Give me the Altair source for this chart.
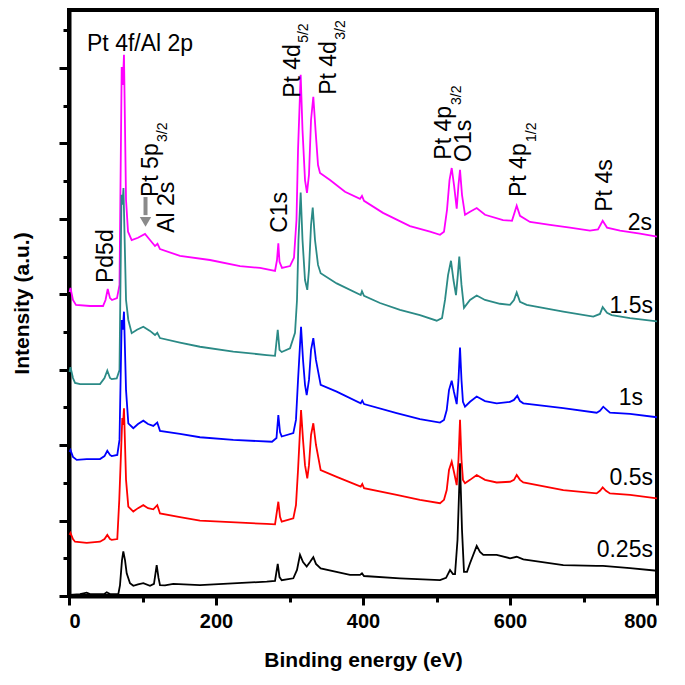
import altair as alt
import pandas as pd

FONT = "Liberation Sans"

series_names = ["2s", "1.5s", "1s", "0.5s", "0.25s"]
series_colors = ["#FF00FF", "#2B8A86", "#0000FF", "#FF0000", "#000000"]

# (binding energy eV, intensity a.u.)
pts_2s = [(0.7, 8.06), (2.0, 8.17), (5.4, 7.85), (9.5, 7.72), (28.6, 7.69), (46.3, 7.69), (49.7, 7.85),
          (52.7, 8.14), (55.8, 7.90), (58.5, 7.85), (65.3, 7.90), (68.7, 8.25), (71.7, 14.03), (73.2, 13.55),
          (74.8, 14.35), (77.6, 10.50), (80.3, 9.66), (85.3, 9.44), (93.9, 9.50), (103.4, 9.60), (110.2, 9.44),
          (117.0, 9.28), (120.4, 9.34), (123.8, 9.20), (151.0, 9.02), (191.8, 8.91), (232.7, 8.75), (259.9, 8.70),
          (280.3, 8.62), (283.0, 8.91), (284.8, 9.35), (286.4, 8.86), (289.8, 8.70), (300.7, 8.75), (306.1, 8.97),
          (309.5, 9.97), (311.6, 11.83), (315.2, 13.82), (317.7, 12.36), (321.1, 11.03), (323.8, 10.69),
          (326.5, 11.17), (329.3, 12.63), (332.4, 13.24), (335.4, 12.36), (338.8, 11.43), (341.5, 11.22),
          (355.1, 11.03), (375.5, 10.72), (395.9, 10.53), (398.6, 10.61), (401.4, 10.48), (427.2, 10.16),
          (463.9, 9.81), (491.2, 9.66), (504.8, 9.58), (510.2, 9.66), (514.3, 10.24), (517.7, 11.03),
          (520.7, 11.35), (523.8, 10.90), (527.5, 10.27), (529.9, 10.90), (532.0, 11.30), (534.7, 10.64),
          (538.8, 10.11), (545.6, 10.19), (554.7, 10.29), (566.0, 10.11), (590.5, 9.97), (602.7, 9.95),
          (609.1, 10.35), (613.6, 10.08), (627.2, 9.92), (654.4, 9.84), (681.6, 9.77), (708.8, 9.69),
          (719.7, 9.72), (726.1, 9.95), (732.0, 9.77), (749.7, 9.69), (776.9, 9.61), (800.0, 9.53)]

pts_15s = [(0.7, 5.94), (2.0, 6.07), (5.4, 5.78), (8.2, 5.65), (15.0, 5.62), (42.2, 5.62), (48.3, 5.78),
           (52.1, 5.98), (55.8, 5.78), (58.1, 5.75), (64.9, 5.77), (68.7, 5.99), (71.4, 10.64), (72.8, 10.38),
           (74.1, 10.82), (77.6, 7.85), (80.7, 7.32), (85.3, 6.97), (92.5, 7.06), (101.1, 7.14), (110.2, 7.03),
           (117.0, 6.92), (120.1, 6.98), (123.8, 6.84), (151.0, 6.72), (178.2, 6.61), (223.5, 6.48),
           (269.0, 6.39), (280.3, 6.37), (284.0, 7.06), (286.4, 6.53), (289.4, 6.47), (300.7, 6.57),
           (307.5, 6.98), (310.2, 7.85), (312.2, 9.44), (315.2, 10.70), (317.7, 9.44), (321.1, 8.38),
           (324.2, 8.12), (326.5, 8.65), (329.3, 9.84), (331.6, 10.30), (334.7, 9.44), (338.8, 8.78),
           (342.4, 8.56), (364.2, 8.29), (396.9, 7.98), (398.6, 8.08), (401.4, 7.96), (423.1, 7.77),
           (450.3, 7.59), (477.5, 7.45), (500.3, 7.30), (507.5, 7.37), (511.6, 7.85), (515.7, 8.51),
           (519.7, 8.89), (523.1, 8.38), (526.5, 7.98), (529.0, 8.51), (531.0, 9.00), (534.0, 8.25),
           (537.4, 7.64), (545.6, 7.85), (554.7, 7.97), (566.0, 7.85), (586.4, 7.75), (600.0, 7.72),
           (605.4, 7.85), (609.1, 8.05), (613.6, 7.80), (622.7, 7.72), (672.5, 7.54), (713.3, 7.41),
           (722.4, 7.48), (726.1, 7.66), (732.0, 7.51), (738.4, 7.45), (763.3, 7.37), (800.0, 7.28)]

pts_1s = [(0.7, 3.82), (2.0, 3.87), (5.4, 3.69), (10.5, 3.61), (24.1, 3.63), (42.2, 3.63), (48.3, 3.71),
          (52.1, 3.85), (55.8, 3.74), (58.1, 3.71), (65.7, 3.74), (68.7, 4.14), (71.7, 7.32), (73.2, 7.06),
          (74.8, 7.54), (77.6, 5.46), (80.7, 4.58), (87.5, 4.45), (93.9, 4.56), (101.1, 4.65), (107.5, 4.56),
          (114.7, 4.51), (120.1, 4.60), (123.8, 4.38), (151.0, 4.30), (178.2, 4.21), (223.5, 4.14),
          (276.2, 4.09), (282.3, 4.19), (284.8, 4.80), (287.1, 4.35), (289.4, 4.23), (305.2, 4.32),
          (308.8, 4.67), (311.6, 5.73), (315.7, 7.14), (318.4, 6.26), (321.1, 5.60), (323.4, 5.33),
          (326.5, 5.73), (329.3, 6.53), (332.4, 6.84), (336.0, 6.26), (342.4, 5.60), (364.2, 5.42),
          (396.9, 5.11), (399.0, 5.18), (401.4, 5.09), (445.8, 4.85), (477.5, 4.69), (504.8, 4.60),
          (510.2, 4.67), (513.9, 4.93), (517.0, 5.46), (520.7, 5.71), (523.8, 5.41), (527.5, 5.09),
          (529.9, 5.73), (532.0, 6.59), (534.0, 5.73), (536.0, 5.15), (538.8, 5.02), (545.6, 5.15),
          (554.7, 5.29), (566.0, 5.17), (581.9, 5.11), (600.0, 5.15), (605.4, 5.20), (609.9, 5.31),
          (613.6, 5.17), (618.1, 5.11), (672.5, 4.98), (717.9, 4.86), (722.4, 4.91), (726.9, 5.02),
          (732.0, 4.93), (736.0, 4.86), (763.3, 4.83), (800.0, 4.74)]

pts_05s = [(0.7, 1.62), (2.0, 1.67), (5.4, 1.51), (8.2, 1.44), (24.1, 1.41), (42.2, 1.44), (48.3, 1.51),
           (52.1, 1.62), (55.8, 1.51), (58.1, 1.49), (65.7, 1.51), (68.4, 2.55), (72.5, 4.72), (73.5, 4.54),
           (74.8, 4.98), (77.6, 3.08), (80.7, 2.37), (87.5, 2.24), (93.9, 2.33), (101.1, 2.41), (107.5, 2.33),
           (114.7, 2.30), (120.1, 2.41), (123.8, 2.19), (151.0, 2.09), (178.2, 2.00), (269.0, 1.91),
           (280.3, 1.90), (284.8, 2.50), (287.1, 2.10), (289.4, 1.97), (305.2, 2.06), (308.8, 2.41),
           (311.6, 3.34), (315.7, 4.93), (318.4, 4.14), (321.1, 3.47), (324.2, 3.12), (326.5, 3.47),
           (329.3, 4.27), (332.4, 4.58), (336.0, 4.01), (342.4, 3.34), (364.2, 3.16), (396.9, 2.90),
           (399.0, 2.97), (401.4, 2.86), (445.8, 2.68), (477.5, 2.55), (504.8, 2.46), (510.2, 2.55),
           (513.9, 2.81), (517.0, 3.34), (520.7, 3.56), (523.8, 3.29), (527.5, 2.94), (529.9, 3.61),
           (532.0, 4.67), (534.0, 3.61), (536.0, 3.08), (538.8, 2.99), (545.6, 3.08), (554.7, 3.21),
           (566.0, 3.08), (581.9, 3.01), (600.0, 3.03), (605.4, 3.08), (609.1, 3.21), (613.6, 3.08),
           (618.1, 3.01), (672.5, 2.81), (717.9, 2.72), (722.4, 2.79), (726.1, 2.88), (730.6, 2.79),
           (736.0, 2.72), (763.3, 2.68), (800.0, 2.59)]

pts_025s = [(1.4, 0.03), (15.0, 0.05), (24.1, 0.09), (28.6, 0.05), (47.6, 0.05), (51.3, 0.10), (55.8, 0.05),
            (67.1, 0.05), (69.4, 0.29), (72.1, 0.95), (73.9, 1.18), (76.2, 0.95), (78.5, 0.60), (83.0, 0.34),
            (87.5, 0.27), (93.9, 0.31), (101.1, 0.34), (110.2, 0.27), (115.6, 0.32), (119.3, 0.82),
            (121.8, 0.48), (123.8, 0.29), (130.6, 0.28), (141.9, 0.32), (178.2, 0.29), (269.0, 0.38),
            (280.3, 0.40), (284.0, 0.85), (286.4, 0.50), (289.4, 0.42), (305.2, 0.47), (310.2, 0.69),
            (314.3, 1.09), (318.4, 0.90), (323.4, 0.78), (327.9, 0.90), (332.4, 1.03), (336.0, 0.85),
            (342.4, 0.73), (382.3, 0.56), (395.9, 0.56), (398.6, 0.60), (401.4, 0.53), (450.3, 0.47),
            (504.8, 0.42), (513.0, 0.48), (518.4, 0.69), (522.4, 0.58), (525.2, 0.58), (528.6, 1.49),
            (532.0, 3.52), (534.7, 1.75), (537.4, 0.64), (541.5, 0.64), (545.6, 0.87), (554.7, 1.33),
            (559.2, 1.17), (563.7, 1.09), (581.9, 1.09), (600.0, 1.00), (609.1, 1.04), (618.1, 0.97),
            (672.5, 0.82), (717.9, 0.80), (726.5, 0.80), (763.3, 0.74), (800.0, 0.67)]

x_major = [0, 200, 400, 600, 800]
x_minor = [100, 300, 500, 700]
y_major = [0, 2, 4, 6, 8, 10, 12, 14]
y_minor = [1, 3, 5, 7, 9, 11, 13, 15]

# peak annotations (rotated), anchored at baseline start
rot_labels = ["Pd5d", "Pt 5p", "Al 2s", "C1s", "Pt 4d", "Pt 4d", "Pt 4p", "O1s", "Pt 4p", "Pt 4s"]
rot_ev = [59.9, 121.1, 142.9, 296.6, 314.3, 363.3, 519.7, 546.9, 621.7, 738.8]
rot_u = [8.30, 10.58, 9.63, 9.63, 13.21, 13.29, 11.57, 11.51, 10.58, 10.19]
sub_labels = ["3/2", "5/2", "3/2", "3/2", "1/2"]
sub_ev = [133.3, 325.2, 375.5, 533.3, 635.4]
sub_u = [12.04, 14.67, 14.75, 13.02, 12.04]
top_label = ["Pt 4f/Al 2p"]
top_ev = [24.5]
top_u = [14.46]
series_label_ev = [793.2, 794.5, 780.9, 794.5, 794.5]
series_label_u = [9.71, 7.51, 5.07, 2.94, 1.03]
arrow_ev = [104.1]
arrow_top = [10.58]
arrow_bot = [10.10]
arrow_head = [9.92]

all_pts = [pts_2s, pts_15s, pts_1s, pts_05s, pts_025s]
frames = []
for name, pts in zip(series_names, all_pts):
    frames.append(pd.DataFrame({"ev": [p[0] for p in pts], "u": [p[1] for p in pts], "series": name}))
df = pd.concat(frames, ignore_index=True)

xs = alt.Scale(domain=[0, 800], nice=False, zero=False)
ys = alt.Scale(domain=[0, 15.54], nice=False, zero=False)

ax_x_major = alt.Axis(values=x_major, orient="bottom", tickSize=9, tickWidth=3, tickColor="black",
                      domainWidth=4, domainColor="black", labelFont=FONT, labelFontSize=20,
                      labelFontWeight="bold", labelColor="black", labelPadding=6, grid=False,
                      title="Binding energy (eV)", titleFont=FONT, titleFontSize=21, titleFontWeight="bold",
                      titleColor="black", titleX=294, titleY=64, titleBaseline="middle", titleAlign="center")
ax_y_major = alt.Axis(values=y_major, orient="left", tickSize=10, tickWidth=3, tickColor="black",
                      domainWidth=4, domainColor="black", labels=False, grid=False,
                      title="Intensity (a.u.)", titleFont=FONT, titleFontSize=21, titleFontWeight="bold",
                      titleColor="black", titleX=-47, titleY=293, titleAngle=270,
                      titleBaseline="middle", titleAlign="center")
ax_x_minor = alt.Axis(values=x_minor, orient="bottom", tickSize=6, tickWidth=3, tickColor="black",
                      domain=False, labels=False, grid=False, title="")
ax_y_minor = alt.Axis(values=y_minor, orient="left", tickSize=6, tickWidth=3, tickColor="black",
                      domain=False, labels=False, grid=False, title="")

layers = []
for i, (name, col) in enumerate(zip(series_names, series_colors)):
    if i == 0:
        xe = alt.X("ev:Q", scale=xs, axis=ax_x_major)
        ye = alt.Y("u:Q", scale=ys, axis=ax_y_major)
    elif i == 1:
        xe = alt.X("ev:Q", scale=xs, axis=ax_x_minor)
        ye = alt.Y("u:Q", scale=ys, axis=ax_y_minor)
    else:
        xe = alt.X("ev:Q", scale=xs, axis=None)
        ye = alt.Y("u:Q", scale=ys, axis=None)
    layers.append(
        alt.Chart(df).transform_filter(alt.datum.series == name)
        .mark_line(color=col, strokeWidth=1.8)
        .encode(x=xe, y=ye)
    )

rot_df = pd.DataFrame({"label": rot_labels, "ev": rot_ev, "u": rot_u})
sub_df = pd.DataFrame({"label": sub_labels, "ev": sub_ev, "u": sub_u})
top_df = pd.DataFrame({"label": top_label, "ev": top_ev, "u": top_u})
ser_df = pd.DataFrame({"label": series_names, "ev": series_label_ev, "u": series_label_u})
arr_df = pd.DataFrame({"ev": arrow_ev, "top": arrow_top, "bot": arrow_bot, "head": arrow_head})

def tx():
    return alt.X("ev:Q", scale=xs, axis=None)

def ty(field="u"):
    return alt.Y(f"{field}:Q", scale=ys, axis=None)

rot_text = alt.Chart(rot_df).mark_text(angle=270, align="left", baseline="alphabetic", font=FONT,
                                       fontSize=23, color="black").encode(x=tx(), y=ty(), text="label:N")
sub_text = alt.Chart(sub_df).mark_text(angle=270, align="left", baseline="alphabetic", font=FONT,
                                       fontSize=14, color="black").encode(x=tx(), y=ty(), text="label:N")
top_text = alt.Chart(top_df).mark_text(align="left", baseline="alphabetic", font=FONT,
                                       fontSize=23, color="black").encode(x=tx(), y=ty(), text="label:N")
ser_text = alt.Chart(ser_df).mark_text(align="right", baseline="alphabetic", font=FONT,
                                       fontSize=23, color="black").encode(x=tx(), y=ty(), text="label:N")
arrow_shaft = alt.Chart(arr_df).mark_rule(color="#8A8A8A", strokeWidth=4).encode(
    x=tx(), y=ty("top"), y2="bot:Q")
arrow_tip = alt.Chart(arr_df).mark_point(shape="triangle-down", filled=True, color="#8A8A8A",
                                         size=130, opacity=1).encode(x=tx(), y=ty("head"))

chart = alt.layer(*layers, rot_text, sub_text, top_text, ser_text, arrow_shaft, arrow_tip).resolve_axis(
    x="independent", y="independent"
).properties(
    width=588, height=586,
    padding={"left": 61, "top": 2, "right": 12, "bottom": 79},
    autosize=alt.AutoSizeParams(type="none"),
    background="white",
).configure_view(stroke="black", strokeWidth=4)

chart.save("out.html", embed_options={"renderer": "svg", "actions": False})
